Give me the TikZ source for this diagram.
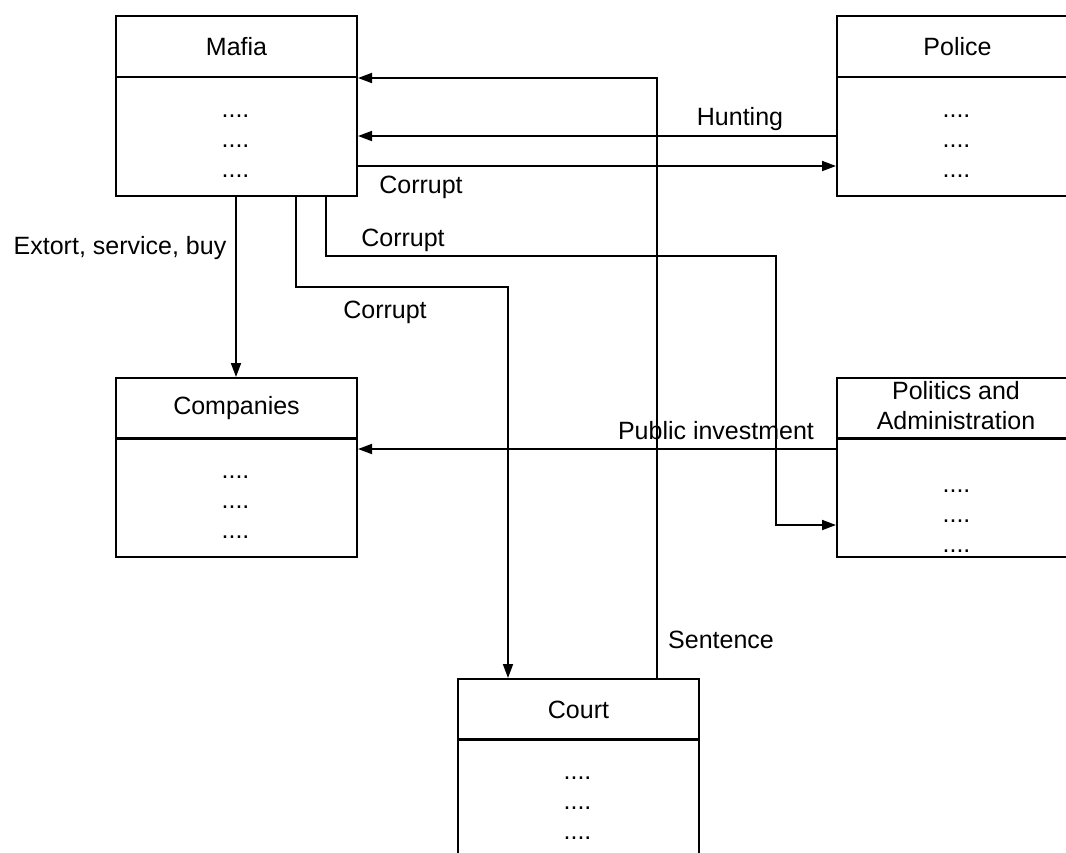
\documentclass[tikz,border=0pt]{standalone}
\usepackage{fontspec}
\setmainfont{Liberation Sans}
\usetikzlibrary{arrows.meta}
\begin{document}
\begin{tikzpicture}[x=1pt,y=-1pt,
  every node/.style={font=\fontsize{25}{30}\selectfont},
  hdr/.style={draw, line width=2pt, minimum width=241pt, minimum height=61pt, inner sep=0pt, anchor=north west, align=center},
  bdy/.style={draw, line width=2pt, minimum width=241pt, minimum height=119pt, inner sep=0pt, anchor=north west},
  dots/.style={anchor=base, inner sep=0pt},
  lbl/.style={anchor=base, inner sep=0pt},
  arr/.style={line width=1.8pt, -{Triangle[length=14pt,width=10pt]}}]
\path[use as bounding box, clip] (0,0) rectangle (1066,852);
\fill[white] (0,0) rectangle (1066,852);
% boxes
\node[hdr] (mafiah) at (115,15) {Mafia};
\node[bdy] (mafiab) at (115,76) {};
\node[hdr] (policeh) at (836,15) {Police};
\node[bdy] (policeb) at (836,76) {};
\node[hdr] (companiesh) at (115,377) {Companies};
\node[bdy] (companiesb) at (115,437) {};
\node[hdr] (politicsh) at (836,377) {};
\node[bdy] (politicsb) at (836,437) {};
\node[hdr] (courth) at (457,678) {Court};
\node[bdy] (courtb) at (457,738) {};
\node[lbl] (pol1) at (956,399) {Politics and};
\node[lbl] (pol2) at (956,429) {Administration};
% dots
\foreach \n/\x/\y in {m/235.5/117, p/956.5/117, c/235.5/478, a/956.5/492, k/577.5/779}{
  \node[dots] (d\n1) at (\x,\y) {....};
  \node[dots] (d\n2) at (\x,\y+30.5) {....};
  \node[dots] (d\n3) at (\x,\y+60) {....};
}
% connectors
\coordinate (c1) at (776,256);
\coordinate (c2) at (508,287);
\draw[arr] ([xshift=78.5pt]courth.north) |- (mafiah.south east);
\draw[arr] ([yshift=-60pt]policeb.north west) -- ([yshift=-60pt]mafiab.north east);
\draw[arr] ([yshift=-90pt]mafiab.north east) -- ([yshift=-90pt]policeb.north west);
\draw[arr] ([xshift=-0.5pt]mafiab.south) -- ([xshift=-0.5pt]companiesh.north);
\draw[arr] ([xshift=89.5pt]mafiab.south) |- (c1) |- ([yshift=-88pt]politicsb.north west);
\draw[arr] ([xshift=59.5pt]mafiab.south) |- (c2) -- (c2 |- courth.north);
\draw[arr] ([yshift=-12pt]politicsb.north west) -- ([yshift=-12pt]companiesb.north east);
% labels
\node[lbl] (lsent) at (721,648) {Sentence};
\node[lbl] (lhunt) at (740,125) {Hunting};
\node[lbl] (lcor1) at (421,193) {Corrupt};
\node[lbl] (lext) at (120,254) {Extort, service, buy};
\node[lbl] (lcor2) at (403,246) {Corrupt};
\node[lbl] (lcor3) at (385,318) {Corrupt};
\node[lbl] (lpub) at (716,439) {Public investment};
\end{tikzpicture}
\end{document}
